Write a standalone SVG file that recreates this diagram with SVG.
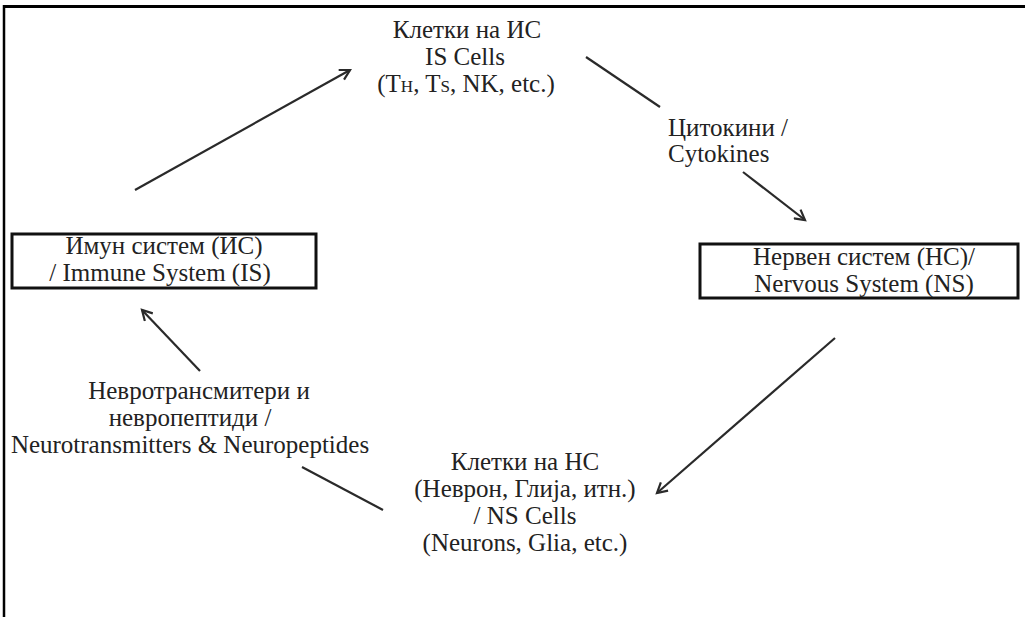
<svg xmlns="http://www.w3.org/2000/svg" width="1025" height="617" viewBox="0 0 1025 617">
<style>
.t{font-family:"Liberation Serif","Times New Roman",serif;font-size:25px;fill:#222}
.m{text-anchor:middle}
.box{fill:none;stroke:#111;stroke-width:3}
.c{stroke:#2a2a2a;stroke-width:2.2;fill:none}
</style>
<defs>
<marker id="ah" viewBox="0 0 12 12" refX="10" refY="6" markerWidth="6" markerHeight="6" orient="auto" markerUnits="strokeWidth">
<path d="M1,1 L10,6 L1,11" fill="none" stroke="#2a2a2a" stroke-width="2"/>
</marker>
</defs>
<rect width="1025" height="617" fill="#fff"/>
<g id="frame">
<line x1="3" y1="6.5" x2="1025" y2="6.5" stroke="#000" stroke-width="3"/>
<line x1="4" y1="5" x2="4" y2="617" stroke="#000" stroke-width="2.5"/>
</g>
<g id="connectors">
<line class="c" x1="135" y1="190" x2="350" y2="70" marker-end="url(#ah)"/>
<line class="c" x1="586" y1="57" x2="660" y2="107"/>
<line class="c" x1="743" y1="172" x2="805" y2="220" marker-end="url(#ah)"/>
<line class="c" x1="835" y1="338" x2="657" y2="493" marker-end="url(#ah)"/>
<line class="c" x1="383" y1="510" x2="302" y2="467"/>
<line class="c" x1="200" y1="371" x2="142" y2="310" marker-end="url(#ah)"/>
</g>
<g id="is-cells">
<text class="t m" x="467" y="38">Клетки на ИС</text>
<text class="t m" x="465" y="65">IS Cells</text>
<text class="t m" x="466" y="92">(T<tspan font-size="17">H</tspan>, T<tspan font-size="17">S</tspan>, NK, etc.)</text>
</g>
<g id="cytokines">
<text class="t" x="668" y="136">Цитокини /</text>
<text class="t" x="668" y="162">Cytokines</text>
</g>
<g id="immune-system">
<rect class="box" x="12" y="234" width="304" height="54"/>
<text class="t m" x="164" y="254">Имун систем (ИС)</text>
<text class="t m" x="160" y="281">/ Immune System (IS)</text>
</g>
<g id="nervous-system">
<rect class="box" x="700" y="244" width="318" height="54"/>
<text class="t m" x="864" y="265">Нервен систем (НС)/</text>
<text class="t m" x="864" y="292">Nervous System (NS)</text>
</g>
<g id="ns-cells">
<text class="t m" x="525" y="470">Клетки на НС</text>
<text class="t m" x="525" y="497">(Неврон, Глија, итн.)</text>
<text class="t m" x="525" y="524">/ NS Cells</text>
<text class="t m" x="525" y="551">(Neurons, Glia, etc.)</text>
</g>
<g id="neurotransmitters">
<text class="t m" x="199" y="399">Невротрансмитери и</text>
<text class="t m" x="190" y="426">невропептиди /</text>
<text class="t m" x="190" y="453">Neurotransmitters &amp; Neuropeptides</text>
</g>
</svg>
